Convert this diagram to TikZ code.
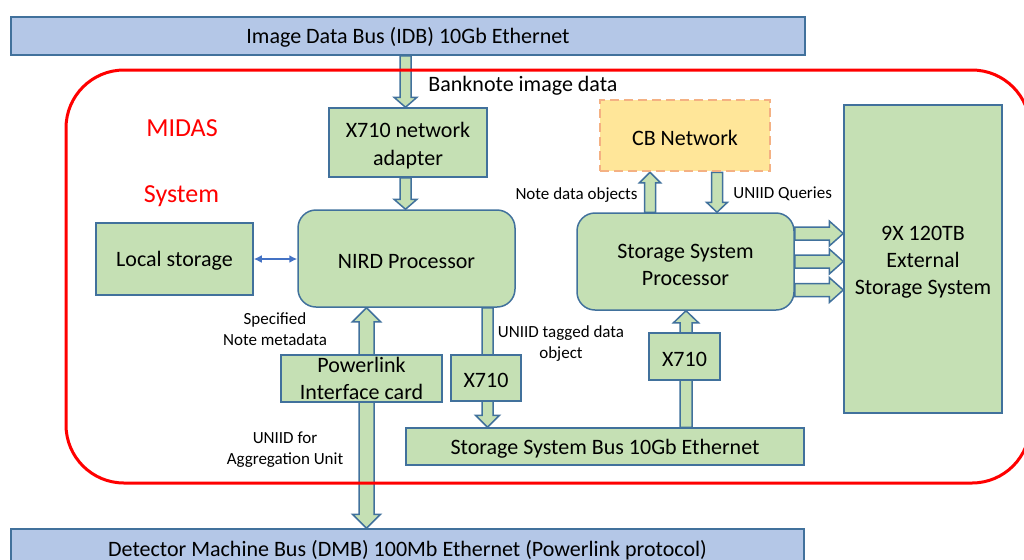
\documentclass[tikz,border=0pt]{standalone}
\usepackage{fontspec}
\setmainfont{Carlito}
\usetikzlibrary{calc,arrows.meta}
\pgfdeclarelayer{bg}
\pgfsetlayers{bg,main}
\definecolor{gfill}{HTML}{C5E0B4}
\definecolor{bfill}{HTML}{B4C7E7}
\definecolor{edge}{HTML}{41719C}
\definecolor{yfill}{HTML}{FFE699}
\definecolor{oedge}{HTML}{F4B183}
\definecolor{lblue}{HTML}{4472C4}
\newcommand\upstrut{\rule{0pt}{10.3pt}}
\newcommand\vblk[5]{%
 \path[blk] let \p1=#1, \p2=#2, \n1={ifthenelse(\y2>\y1,1,-1)*#5} in
 ({\x2-#3},{\y1}) -- ({\x2-#3},{\y2-\n1}) -- ({\x2-#4},{\y2-\n1}) -- ({\x2},{\y2}) -- ({\x2+#4},{\y2-\n1}) -- ({\x2+#3},{\y2-\n1}) -- ({\x2+#3},{\y1}) -- cycle;}
\newcommand\vdblk[5]{%
 \path[blk] let \p1=#1, \p2=#2, \n1={ifthenelse(\y2>\y1,1,-1)*#5} in
 ({\x2},{\y1}) -- ({\x2+#4},{\y1+\n1}) -- ({\x2+#3},{\y1+\n1}) -- ({\x2+#3},{\y2-\n1}) -- ({\x2+#4},{\y2-\n1}) -- ({\x2},{\y2}) -- ({\x2-#4},{\y2-\n1}) -- ({\x2-#3},{\y2-\n1}) -- ({\x2-#3},{\y1+\n1}) -- ({\x2-#4},{\y1+\n1}) -- cycle;}
\newcommand\hblk[5]{%
 \path[blk] let \p1=#1, \p2=#2 in
 ({\x1},{\y1+#3}) -- ({\x2-#5},{\y1+#3}) -- ({\x2-#5},{\y1+#4}) -- ({\x2},{\y1}) -- ({\x2-#5},{\y1-#4}) -- ({\x2-#5},{\y1-#3}) -- ({\x1},{\y1-#3}) -- cycle;}
\begin{document}
\begin{tikzpicture}[x=0.5pt,y=-0.5pt,
 box/.style={draw=edge,line width=0.75pt,fill=gfill,align=center,inner sep=0pt,font=\fontsize{11}{13.5}\selectfont,execute at begin node={\rule{0pt}{9.8pt}}},
 rbox/.style={box,rounded corners=9pt},
 bus/.style={box,fill=bfill},
 blk/.style={draw=edge,line width=0.75pt,fill=gfill},
 lbl/.style={align=center,inner sep=0pt,font=\fontsize{8.5}{10.5}\selectfont},
 big/.style={inner sep=0pt,font=\fontsize{11}{13.5}\selectfont},
 mid/.style={text=red,inner sep=0pt,font=\fontsize{13}{15}\selectfont}]
\useasboundingbox (0,0) rectangle (1024,559);
% boxes
\node[bus,minimum width=397pt,minimum height=19pt] (idb) at (408,36) {Image Data Bus (IDB) 10Gb Ethernet};
\node[bus,minimum width=396.5pt,minimum height=19pt] (dmb) at (407.5,548) {Detector Machine Bus (DMB) 100Mb Ethernet (Powerlink protocol)};
\node[box,font=\fontsize{11}{14}\selectfont,minimum width=79pt,minimum height=34.5pt] (x710a) at (408,142.5) {\upstrut X710 network\\adapter};
\node[rbox,minimum width=108.5pt,minimum height=48.5pt] (nird) at (406.5,258.5) {NIRD Processor};
\node[box,minimum width=78.5pt,minimum height=36pt] (local) at (174.5,259) {Local storage};
\node[box,fill=yfill,draw=oedge,line width=1.25pt,dash pattern=on 4.5pt off 2.5pt,minimum width=85pt,minimum height=35.5pt] (cb) at (685,135.5) {CB Network};
\node[rbox,minimum width=108.5pt,minimum height=48.5pt] (ssp) at (685.5,261.5) {\upstrut Storage System\\Processor};
\node[box,minimum width=79pt,minimum height=154pt] (ext) at (923,259) {\upstrut 9X 120TB\\External\\Storage System};
\node[box,minimum width=80.5pt,minimum height=23.5pt] (plink) at (361.5,378.5) {Powerlink\\Interface card};
\node[box,minimum width=35pt,minimum height=23pt] (x710b) at (486,378) {X710};
\node[box,minimum width=35.5pt,minimum height=23.5pt] (x710c) at (684.5,356.5) {X710};
\node[box,minimum width=199pt,minimum height=18.5pt] (ssbus) at (605,446.5) {Storage System Bus 10Gb Ethernet};
% labels
\node[big,anchor=west] (bnk) at (428,86) {Banknote image data};
\node[mid] (midas) at (182,128) {MIDAS};
\node[mid] (sys) at (181.5,196) {System};
\node[lbl,anchor=east] (ndo) at (638,195) {Note data objects};
\node[lbl,anchor=west] (uq) at (733,194) {UNIID Queries};
\node[lbl] (snm) at (275,329) {Specified\\Note metadata};
\node[lbl] (utd) at (561,344) {UNIID tagged data\\object};
\node[lbl] (ufa) at (285,449.5) {UNIID for\\Aggregation Unit};
% block arrows
\begin{pgfonlayer}{bg}
\vblk{(idb.south)}{($(x710a.north)+(-2.5,0)$)}{2.75pt}{5.75pt}{5pt}
\vblk{(x710a.south)}{($(nird.north)+(-1,0)$)}{2.75pt}{5.75pt}{5pt}
\vblk{(ssp.north)}{($(cb.south)+(-35,0)$)}{2.75pt}{5.25pt}{5.25pt}
\vblk{(cb.south)}{($(ssp.north)+(31.5,0)$)}{2.75pt}{5.25pt}{5pt}
\vblk{(nird.south)}{($(ssbus.north)+(-117.5,0)$)}{2.75pt}{6pt}{6pt}
\vblk{(ssbus.north)}{($(ssp.south)+(0.5,0)$)}{3pt}{6.25pt}{6pt}
\vdblk{($(nird.south)+(-40,0)$)}{($(dmb.north)+(-41,0)$)}{3.75pt}{7pt}{7pt}
\hblk{($(ssp.east)+(0,-28)$)}{(ext.west)}{3.25pt}{6.25pt}{7pt}
\hblk{(ssp.east)}{(ext.west)}{3.25pt}{6.25pt}{7pt}
\hblk{($(ssp.east)+(0,28.5)$)}{(ext.west)}{3.25pt}{6.25pt}{7pt}
\end{pgfonlayer}
\draw[lblue,line width=1pt,{Latex[length=4pt,width=4pt]}-{Latex[length=4pt,width=4pt]}] (local.east) -- (local.east -| nird.west);
% MIDAS frame
\draw[red,line width=1.5pt,rounded corners=29pt] (66,70) rectangle (1030,483);
\end{tikzpicture}
\end{document}
